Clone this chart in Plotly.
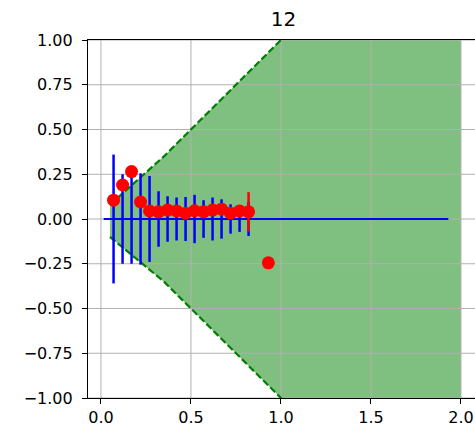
import plotly.graph_objects as go

# Cone boundaries (shaded acceptance region)
cone_x = [0.05, 0.35, 1.0, 2.0]
cone_upper = [0.08, 0.35, 1.0, 2.0]
cone_lower = [-0.1, -0.35, -1.0, -2.0]

# Reference baseline at zero
baseline_x = [0.015, 1.93]
baseline_y = [0.0, 0.0]

# Sample positions, blue spread around zero
sample_x = [0.07, 0.12, 0.17, 0.22, 0.27, 0.32, 0.37, 0.42,
            0.47, 0.52, 0.57, 0.62, 0.67, 0.72, 0.77, 0.82]
sample_zero = [0.0] * len(sample_x)
spread = [0.36, 0.25, 0.25, 0.255, 0.24, 0.155, 0.127, 0.12,
          0.123, 0.135, 0.105, 0.12, 0.11, 0.082, 0.072, 0.095]

# Measured values (red), last one with its own uncertainty
measured_y = [0.105, 0.19, 0.265, 0.095, 0.045, 0.04, 0.05, 0.045,
              0.032, 0.046, 0.04, 0.05, 0.055, 0.032, 0.045, 0.04]
measured_err = [0.0] * 15 + [0.11]

# Outlier
outlier_x = [0.93]
outlier_y = [-0.245]

# Axes
x_range = [-0.072, 2.078]
y_range = [-1.0, 1.0]
x_ticks = [0.0, 0.5, 1.0, 1.5, 2.0]
y_ticks = [-1.0, -0.75, -0.5, -0.25, 0.0, 0.25, 0.5, 0.75, 1.0]

fig = go.Figure()

# Shaded cone
fig.add_trace(go.Scatter(x=cone_x, y=cone_lower, mode="lines",
                         line=dict(width=0), showlegend=False, hoverinfo="skip"))
fig.add_trace(go.Scatter(x=cone_x, y=cone_upper, mode="lines",
                         line=dict(width=0), fill="tonexty",
                         fillcolor="rgba(0,128,0,0.5)", showlegend=False, hoverinfo="skip"))

# Grid drawn on top of the shading but under the data
grid_x, grid_y = [], []
for t in x_ticks:
    grid_x += [t, t, None]
    grid_y += [y_range[0], y_range[1], None]
for t in y_ticks:
    grid_x += [x_range[0], x_range[1], None]
    grid_y += [t, t, None]
fig.add_trace(go.Scatter(x=grid_x, y=grid_y, mode="lines",
                         line=dict(color="#b0b0b0", width=1),
                         showlegend=False, hoverinfo="skip"))

for edge in (cone_upper, cone_lower):
    fig.add_trace(go.Scatter(x=cone_x, y=edge, mode="lines",
                             line=dict(color="green", width=2.2, dash="7px,3px"),
                             showlegend=False))

fig.add_trace(go.Scatter(x=baseline_x, y=baseline_y, mode="lines",
                         line=dict(color="blue", width=2), showlegend=False))

fig.add_trace(go.Scatter(x=sample_x, y=sample_zero, mode="markers",
                         marker=dict(size=1, color="rgba(0,0,0,0)"),
                         error_y=dict(type="data", array=spread, symmetric=True,
                                      color="blue", thickness=2.5, width=0),
                         showlegend=False))

fig.add_trace(go.Scatter(x=sample_x, y=measured_y, mode="markers",
                         marker=dict(size=13, color="red"),
                         error_y=dict(type="data", array=measured_err, symmetric=True,
                                      color="red", thickness=2.5, width=0),
                         showlegend=False))

fig.add_trace(go.Scatter(x=outlier_x, y=outlier_y, mode="markers",
                         marker=dict(size=13, color="red"), showlegend=False))

axis_common = dict(
    showgrid=False,
    showline=True, linecolor="black", linewidth=1.2,
    ticks="outside", ticklen=5, tickcolor="black", tickwidth=1.2,
    zeroline=False,
    tickfont=dict(family="DejaVu Sans", size=16, color="black"),
)

fig.update_xaxes(range=x_range, tickvals=x_ticks,
                 tickformat=".1f", mirror=True, **axis_common)
fig.update_yaxes(range=y_range, tickvals=y_ticks,
                 tickformat=".2f", ticklabelstandoff=6, **axis_common)

fig.update_layout(
    width=475, height=430,
    margin=dict(l=88, r=0, t=40, b=32),
    plot_bgcolor="white", paper_bgcolor="white",
    title=dict(text="12", x=0.505, xref="paper", xanchor="center",
               y=1 - 19 / 430, yref="container", yanchor="middle",
               font=dict(family="DejaVu Sans", size=20, color="black")),
)

fig.write_html("out.html")
